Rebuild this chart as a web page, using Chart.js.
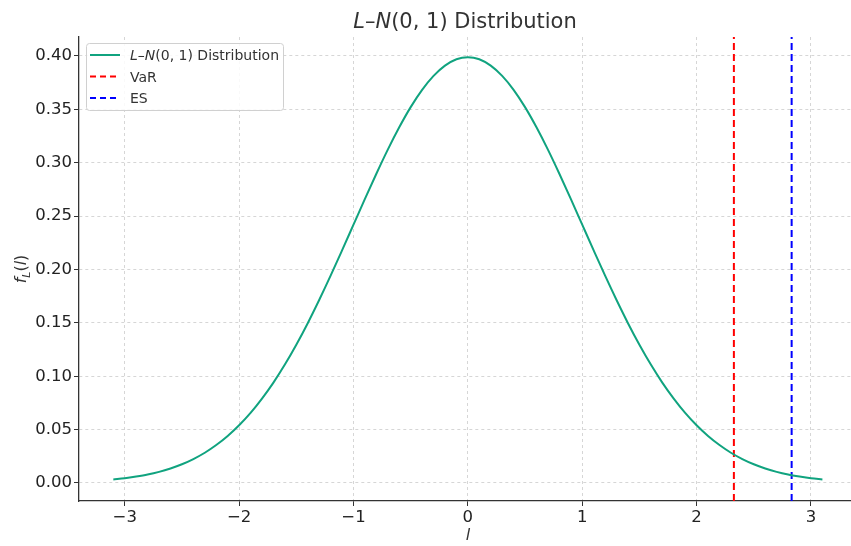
<!DOCTYPE html>
<html>
<head>
<meta charset="utf-8">
<title>L–N(0,1) Distribution</title>
<script src="https://cdn.jsdelivr.net/npm/chart.js@4/dist/chart.umd.min.js"></script>
<style>
  html, body { margin: 0; padding: 0; background: #fff; }
  #wrap { position: relative; width: 851px; height: 546px; }
</style>
</head>
<body>
<div id="wrap"><canvas id="chart" width="851" height="546"></canvas></div>
<script>
// Density curve (loss l vs f_L(l))
const lossValues = [-3.1, -3.0, -2.9, -2.8, -2.7, -2.6, -2.5, -2.4, -2.3, -2.2, -2.1, -2.0, -1.9, -1.8, -1.7, -1.6,
    -1.5, -1.4, -1.3, -1.2, -1.1, -1.0, -0.9, -0.8, -0.7, -0.6, -0.5, -0.4, -0.3, -0.2, -0.1, 0.0,
    0.1, 0.2, 0.3, 0.4, 0.5, 0.6, 0.7, 0.8, 0.9, 1.0, 1.1, 1.2, 1.3, 1.4, 1.5, 1.6,
    1.7, 1.8, 1.9, 2.0, 2.1, 2.2, 2.3, 2.4, 2.5, 2.6, 2.7, 2.8, 2.9, 3.0, 3.1];
const densityValues = [0.0033, 0.0044, 0.0060, 0.0079, 0.0104, 0.0136, 0.0175, 0.0224, 0.0283, 0.0355, 0.0440, 0.0540, 0.0656, 0.0790, 0.0940, 0.1109,
    0.1295, 0.1497, 0.1714, 0.1942, 0.2179, 0.2420, 0.2661, 0.2897, 0.3123, 0.3332, 0.3521, 0.3683, 0.3814, 0.3910, 0.3970, 0.3989,
    0.3970, 0.3910, 0.3814, 0.3683, 0.3521, 0.3332, 0.3123, 0.2897, 0.2661, 0.2420, 0.2179, 0.1942, 0.1714, 0.1497, 0.1295, 0.1109,
    0.0940, 0.0790, 0.0656, 0.0540, 0.0440, 0.0355, 0.0283, 0.0224, 0.0175, 0.0136, 0.0104, 0.0079, 0.0060, 0.0044, 0.0033];

// risk measures (vertical markers)
const varLevel = 2.326;
const esLevel = 2.831;

// axis ticks
const xTicks = [-3, -2, -1, 0, 1, 2, 3];
const yTicks = [0, 0.05, 0.10, 0.15, 0.20, 0.25, 0.30, 0.35, 0.40];

const xMin = -3.4, xMax = 3.35;
const yMin = -0.0169, yMax = 0.4178;

const FONT = '"DejaVu Sans", sans-serif';
const TEXT = '#333333';

// draw a run of text pieces, some italic, some subscript
function drawRich(ctx, parts, x, y, size, align) {
    const fontFor = p => `${p.i ? 'italic ' : ''}${p.sub ? Math.round(size * 0.7) : size}px ${FONT}`;
    let total = 0;
    parts.forEach(p => { ctx.font = fontFor(p); total += ctx.measureText(p.t).width; });
    let cx = align === 'center' ? x - total / 2 : x;
    ctx.textAlign = 'left';
    ctx.textBaseline = 'alphabetic';
    parts.forEach(p => {
        ctx.font = fontFor(p);
        ctx.fillText(p.t, cx, y + (p.sub ? size * 0.25 : 0));
        cx += ctx.measureText(p.t).width;
    });
}

const distParts = [{ t: 'L', i: true }, { t: '–' }, { t: 'N', i: true }, { t: '(0, 1) Distribution' }];

// title, axis labels and legend in matplotlib style
const decorPlugin = {
    id: 'decor',
    afterDraw(chart) {
        const ctx = chart.ctx;
        const area = chart.chartArea;
        ctx.save();
        ctx.fillStyle = TEXT;
        drawRich(ctx, distParts, (area.left + area.right) / 2, 28, 21, 'center');

        // x label
        drawRich(ctx, [{ t: 'l', i: true }], chart.scales.x.getPixelForValue(0), 540, 16, 'center');

        // y label, rotated
        ctx.save();
        ctx.translate(26, (area.top + area.bottom) / 2);
        ctx.rotate(-Math.PI / 2);
        drawRich(ctx, [{ t: 'f', i: true }, { t: 'L', i: true, sub: true }, { t: '(' }, { t: 'l', i: true }, { t: ')' }], 0, 0, 16, 'center');
        ctx.restore();

        // legend box
        const bx = 86, by = 43, bw = 197, bh = 67;
        ctx.fillStyle = 'rgba(255,255,255,0.85)';
        ctx.strokeStyle = '#d0d0d0';
        ctx.lineWidth = 1;
        ctx.beginPath();
        ctx.roundRect(bx + 0.5, by + 0.5, bw, bh, 3);
        ctx.fill();
        ctx.stroke();

        const rows = [
            { parts: distParts, color: '#10a37f', dash: [] },
            { parts: [{ t: 'VaR' }], color: '#ff0000', dash: [6, 4] },
            { parts: [{ t: 'ES' }], color: '#0000ff', dash: [6, 4] }
        ];
        rows.forEach((r, k) => {
            const ly = 55 + k * 21.5;
            ctx.strokeStyle = r.color;
            ctx.lineWidth = 2;
            ctx.setLineDash(r.dash);
            ctx.beginPath();
            ctx.moveTo(90, ly);
            ctx.lineTo(120, ly);
            ctx.stroke();
            ctx.setLineDash([]);
            ctx.fillStyle = TEXT;
            drawRich(ctx, r.parts, 130, ly + 5, 14, 'left');
        });
        ctx.restore();
    }
};

const curve = lossValues.map((l, i) => ({ x: l, y: densityValues[i] }));
const vline = v => [{ x: v, y: yMin }, { x: v, y: yMax }];

new Chart(document.getElementById('chart'), {
    type: 'line',
    data: {
        datasets: [
            { label: 'L–N(0, 1) Distribution', data: curve, borderColor: '#10a37f', borderWidth: 2, pointRadius: 0, cubicInterpolationMode: 'monotone', fill: false },
            { label: 'VaR', data: vline(varLevel), borderColor: '#ff0000', borderWidth: 2, borderDash: [7, 4], pointRadius: 0, fill: false },
            { label: 'ES', data: vline(esLevel), borderColor: '#0000ff', borderWidth: 2, borderDash: [7, 4], pointRadius: 0, fill: false }
        ]
    },
    options: {
        responsive: false,
        animation: false,
        layout: { padding: { top: 37, right: 0, left: 0, bottom: 0 } },
        plugins: { legend: { display: false }, title: { display: false }, tooltip: { enabled: false } },
        scales: {
            x: {
                type: 'linear', min: xMin, max: xMax,
                afterBuildTicks: axis => { axis.ticks = xTicks.map(v => ({ value: v })); },
                afterFit: s => { s.height = 45; },
                grid: { color: '#cccccc', lineWidth: 0.8, tickColor: '#333333', tickLength: 5, tickWidth: 1, tickBorderDash: [] },
                border: { color: '#333333', width: 1.3, dash: [3, 3] },
                ticks: { color: '#222222', font: { family: FONT, size: 16.5 }, padding: 2, callback: v => v < 0 ? '−' + Math.abs(v) : String(v) }
            },
            y: {
                min: yMin, max: yMax,
                afterBuildTicks: axis => { axis.ticks = yTicks.map(v => ({ value: v })); },
                afterFit: s => { s.width = 79; },
                grid: { color: '#cccccc', lineWidth: 0.8, tickColor: '#333333', tickLength: 5, tickWidth: 1, tickBorderDash: [] },
                border: { color: '#333333', width: 1.3, dash: [3, 3] },
                ticks: { color: '#222222', font: { family: FONT, size: 16.5 }, padding: 2, callback: v => v.toFixed(2) }
            }
        }
    },
    plugins: [decorPlugin]
});
</script>
</body>
</html>
